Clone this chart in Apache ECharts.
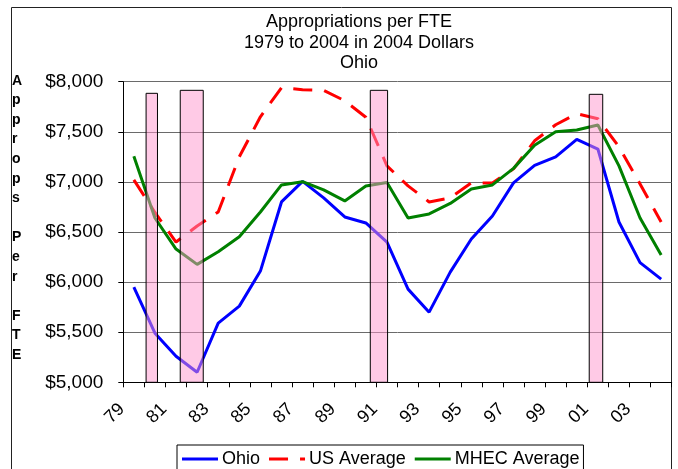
<!DOCTYPE html>
<html>
<head>
<meta charset="utf-8">
<script src="https://cdn.jsdelivr.net/npm/echarts@6/dist/echarts.min.js"></script>
<style>
  html, body { margin: 0; padding: 0; background: #fff; }
  #chart { width: 678px; height: 469px; }
</style>
</head>
<body>
<div id="chart"></div>
<script>
// Fiscal years 1979-2004, two-digit labels
const years = ['79','80','81','82','83','84','85','86','87','88','89','90','91',
               '92','93','94','95','96','97','98','99','00','01','02','03','04'];

// Appropriations per FTE, constant 2004 dollars
const ohio = [5950, 5490, 5260, 5100, 5590, 5760, 6110, 6800, 7005, 6840, 6650, 6590, 6400,
              5930, 5700, 6100, 6430, 6660, 6990, 7165, 7250, 7425, 7328, 6600, 6194, 6030];
const usAverage = [7020, 6695, 6400, 6560, 6700, 7250, 7650, 7940, 7920, 7914, 7810, 7645, 7160,
                   6960, 6800, 6840, 6990, 6990, 7130, 7410, 7570, 7680, 7630, 7350, 6980, 6600];
const mhecAverage = [7255, 6640, 6330, 6177, 6303, 6453, 6700, 6970, 7002, 6920, 6810, 6960, 6995,
                     6640, 6680, 6785, 6930, 6970, 7135, 7365, 7501, 7518, 7568, 7160, 6640, 6270];

// Recession periods: [start, end] in category units from the first year, bar top in dollars
const recessions = [
  [1.08, 1.62, 7884],
  [2.70, 3.79, 7914],
  [11.71, 12.53, 7914],
  [22.09, 22.73, 7874]
];

const yMin = 5000, yMax = 8000, yStep = 500;
const axisNameChars = ['A','p','p','r','o','p','s',' ','P','e','r',' ','F','T','E'];

const fmtDollar = v => '$' + String(v).replace(/\B(?=(\d{3})+(?!\d))/g, ',');
const font = 'Liberation Sans, Arial, sans-serif';

// legend keys: plain strokes, the US key is one long dash and a short one
const solidKey = 'path://M0,0h36v3h-36z';
const dashKey = 'path://M0,0h19v3h-19zM31,0h5v3h-5z';

const chart = echarts.init(document.getElementById('chart'), null, { renderer: 'canvas' });

chart.setOption({
  animation: false,
  backgroundColor: '#fff',
  title: {
    text: 'Appropriations per FTE\n1979 to 2004 in 2004 Dollars\nOhio',
    left: 354,
    top: 7,
    textAlign: 'center',
    textStyle: { fontFamily: font, fontSize: 18, fontWeight: 'normal', color: '#000', lineHeight: 20.5 }
  },
  grid: { left: 123.3, right: 6.3, top: 81.7, bottom: 86.7, containLabel: false },
  xAxis: [
    {
      type: 'category',
      data: years,
      boundaryGap: true,
      axisLine: { lineStyle: { color: '#000', width: 1 } },
      axisTick: { show: true, interval: 0, length: 5, lineStyle: { color: '#000' } },
      axisLabel: {
        interval: 1, rotate: 45, margin: 12,
        fontFamily: font, fontSize: 18, color: '#000',
        padding: [0, 17, 0, 0]
      },
      splitLine: { show: false }
    },
    {
      type: 'value', min: 0, max: years.length, show: false
    }
  ],
  yAxis: {
    type: 'value',
    min: yMin, max: yMax, interval: yStep,
    axisLine: { show: true, lineStyle: { color: '#000', width: 1 } },
    axisTick: { show: true, length: 5, lineStyle: { color: '#000' } },
    axisLabel: { formatter: fmtDollar, margin: 20, fontFamily: font, fontSize: 19, color: '#000' },
    splitLine: { show: true, lineStyle: { color: '#6a6a6a', width: 1 } }
  },
  legend: {
    left: 177, top: 445,
    orient: 'horizontal',
    borderColor: '#000', borderWidth: 1,
    padding: [5, 4, 12, 5],
    itemGap: 9, itemWidth: 36, itemHeight: 3,
    symbolKeepAspect: false,
    textStyle: { fontFamily: font, fontSize: 18, color: '#000', padding: [0, 0, 0, -1] },
    data: [
      { name: 'Ohio', icon: solidKey },
      { name: 'US Average', icon: dashKey },
      { name: 'MHEC Average', icon: solidKey }
    ]
  },
  graphic: [
    {
      type: 'polyline',
      shape: { points: [[11.5, 470], [11.5, 7.5], [671.5, 7.5], [671.5, 470]] },
      style: { stroke: '#222', lineWidth: 1, fill: null },
      silent: true
    },
    {
      type: 'text',
      left: 12, top: 71,
      style: {
        text: axisNameChars.join('\n'),
        fontFamily: font, fontSize: 14, fontWeight: 'bold',
        lineHeight: 19.6, align: 'center', fill: '#000', width: 16
      }
    }
  ],
  series: [
    {
      name: 'Ohio', type: 'line', data: ohio, symbol: 'none', z: 2,
      lineStyle: { color: '#0000ff', width: 3 }, itemStyle: { color: '#0000ff' }
    },
    {
      name: 'US Average', type: 'line', data: usAverage, symbol: 'none', z: 2,
      lineStyle: { color: '#ff0000', width: 3, type: [19, 12] }, itemStyle: { color: '#ff0000' }
    },
    {
      name: 'MHEC Average', type: 'line', data: mhecAverage, symbol: 'none', z: 2,
      lineStyle: { color: '#008000', width: 3 }, itemStyle: { color: '#008000' }
    },
    {
      name: 'Recessions', type: 'custom', xAxisIndex: 1, yAxisIndex: 0, z: 4,
      data: recessions,
      encode: { x: [0, 1], y: 2 },
      renderItem: function (params, api) {
        const p0 = api.coord([api.value(0), api.value(2)]);
        const p1 = api.coord([api.value(1), yMin]);
        return {
          type: 'rect',
          shape: { x: p0[0], y: p0[1], width: p1[0] - p0[0], height: p1[1] - p0[1] },
          style: { fill: 'rgba(255,150,205,0.5)', stroke: '#000', lineWidth: 1 }
        };
      }
    }
  ]
});
</script>
</body>
</html>
